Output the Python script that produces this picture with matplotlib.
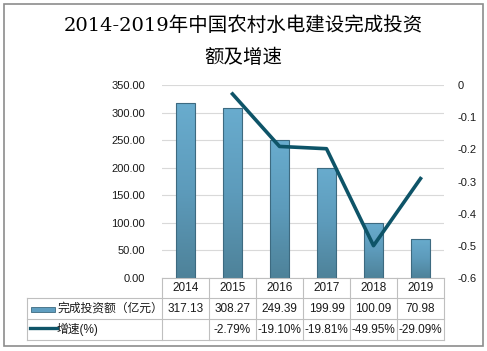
import numpy as np
import matplotlib.pyplot as plt
from matplotlib.colors import LinearSegmentedColormap
from matplotlib.patches import Rectangle
from matplotlib.lines import Line2D

plt.rcParams['font.family'] = ['Liberation Sans', 'Noto Sans CJK SC', 'DejaVu Sans']

# data
years = ['2014', '2015', '2016', '2017', '2018', '2019']
invest = [317.13, 308.27, 249.39, 199.99, 100.09, 70.98]
growth = [np.nan, -2.79, -19.10, -19.81, -49.95, -29.09]
invest_labels = ['317.13', '308.27', '249.39', '199.99', '100.09', '70.98']
growth_labels = ['', '-2.79%', '-19.10%', '-19.81%', '-49.95%', '-29.09%']

W, H = 487, 351
fig = plt.figure(figsize=(W / 100, H / 100), dpi=100)

def fx(px):
    return px / W

def fy(py):
    return 1 - py / H

# outer border
fig.patches.append(Rectangle((fx(4), fy(346)), fx(479), 342 / H, transform=fig.transFigure,
                             fill=False, edgecolor='#8c8c8c', lw=1.2))

title_font = dict(ha='center', va='center', fontsize=14, color='black', fontweight='medium',
                  family=['DejaVu Serif', 'Noto Sans CJK SC'])
fig.text(0.5, fy(26), '2014-2019年中国农村水电建设完成投资', **title_font)
fig.text(0.5, fy(58), '额及增速', **title_font)

left, right, top, bottom = 162, 444, 85, 278
ax = fig.add_axes([fx(left), fy(bottom), fx(right - left), (bottom - top) / H])
x = np.arange(len(years))

cmap = LinearSegmentedColormap.from_list('bar', ['#4e8299', '#5d9bbb', '#69acce'])
grad = np.linspace(0, 1, 256).reshape(-1, 1)
bars = ax.bar(x, invest, width=0.4, color='none', edgecolor='#3d6a80', lw=0.8, zorder=3)
for b in bars:
    x0, y0 = b.get_x(), b.get_y()
    im = ax.imshow(grad, cmap=cmap, origin='lower', aspect='auto',
                   extent=[x0, x0 + b.get_width(), y0, y0 + b.get_height()], zorder=2)
    im.set_clip_path(b)
ax.set_xlim(-0.5, 5.5)
ax.set_ylim(0, 350)

ax.set_yticks(np.arange(0, 351, 50))
ax.set_yticklabels([f'{v:.2f}' for v in np.arange(0, 351, 50)], fontsize=8, color='#1a1a1a')
ax.grid(axis='y', color='#d9d9d9', lw=0.8, zorder=0)
ax.set_xticks([])
for s in ['top', 'right', 'left']:
    ax.spines[s].set_visible(False)
ax.spines['bottom'].set_color('#bfbfbf')
ax.tick_params(axis='y', length=0, pad=12)

ax2 = ax.twinx()
ax2.plot(x, np.array(growth) / 100, color='#0e5468', lw=2.6, zorder=4)
ax2.set_ylim(-0.6, 0)
ax2.set_yticks(np.arange(-0.6, 0.01, 0.1))
ax2.set_yticklabels(['-0.6', '-0.5', '-0.4', '-0.3', '-0.2', '-0.1', '0'], fontsize=8, color='#1a1a1a')
ax2.tick_params(axis='y', length=0, pad=10)
for s in ['top', 'right', 'left', 'bottom']:
    ax2.spines[s].set_visible(False)

# data table
tcol = '#bfbfbf'
col_w = (right - left) / 6
for i in range(7):
    xx = left + i * col_w
    fig.add_artist(Line2D([fx(xx), fx(xx)], [fy(278), fy(340)], color=tcol, lw=0.8))
fig.add_artist(Line2D([fx(27), fx(27)], [fy(298), fy(340)], color=tcol, lw=0.8))
for yy in [298, 319, 340]:
    fig.add_artist(Line2D([fx(27), fx(right)], [fy(yy), fy(yy)], color=tcol, lw=0.8))

for i, yr in enumerate(years):
    cx = left + (i + 0.5) * col_w
    fig.text(fx(cx), fy(288), yr, ha='center', va='center', fontsize=8.5, color='#1a1a1a')
    fig.text(fx(cx), fy(309), invest_labels[i], ha='center', va='center', fontsize=8.5, color='#1a1a1a')
    fig.text(fx(cx), fy(330), growth_labels[i], ha='center', va='center', fontsize=8.5, color='#1a1a1a')

fig.patches.append(Rectangle((fx(31), fy(312)), fx(24), 5 / H, transform=fig.transFigure,
                             facecolor='#5f9ec0', edgecolor='#3d6a80', lw=0.6))
fig.add_artist(Line2D([fx(30), fx(57)], [fy(328), fy(328)], color='#0e5468', lw=2.4))
fig.text(fx(57), fy(309), '完成投资额（亿元）', ha='left', va='center', fontsize=8.5, color='#1a1a1a')
fig.text(fx(57), fy(329), '增速(%)', ha='left', va='center', fontsize=8.5, color='#1a1a1a')

fig.savefig('out.png', dpi=100)
